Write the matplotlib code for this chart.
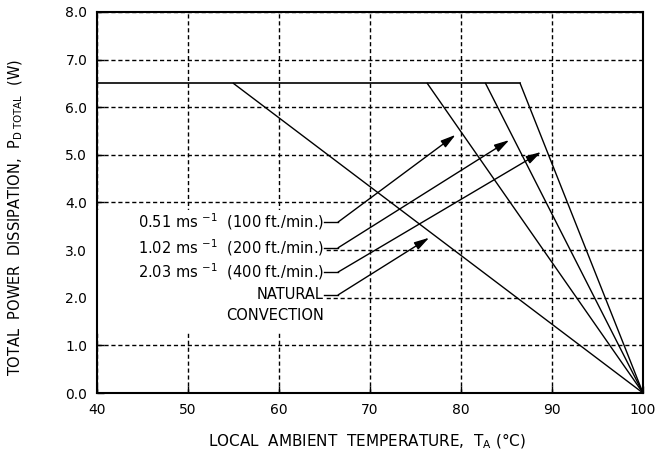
import numpy as np
import matplotlib.pyplot as plt
from matplotlib.patches import Rectangle
plt.rcParams['font.family'] = 'DejaVu Sans'
plt.rcParams['mathtext.fontset'] = 'dejavusans'

# derating curves: knee temperature at 6.5 W, all reach 0 W at 100 C
curve_names = ['natural', '0.51', '1.02', '2.03']
knee_temp = [55.0, 76.3, 82.7, 86.5]
p_max = 6.5
t_max = 100.0

# callout labels and arrow tips
labels = [r'0.51 ms $^{-1}$  (100 ft./min.)',
          r'1.02 ms $^{-1}$  (200 ft./min.)',
          r'2.03 ms $^{-1}$  (400 ft./min.)',
          'NATURAL']
label_y = [3.59, 3.05, 2.54, 2.06]
tip_x = [79.4, 85.3, 88.8, 76.5]
tip_y = [5.42, 5.31, 5.06, 3.26]
label_end_x = 64.9
elbow_x = 66.5

fig = plt.figure(figsize=(6.57, 4.70), dpi=100)
ax = fig.add_axes([0.1476, 0.1638, 0.8311, 0.8107])

ax.set_xlim(40, 100)
ax.set_ylim(0, 8)
ax.set_xticks(np.arange(40, 101, 10))
ax.set_yticks(np.arange(0, 8.1, 1))
ax.set_yticklabels(['%.1f' % v for v in np.arange(0, 8.1, 1)])
ax.tick_params(direction='in', length=5, width=1, labelsize=10, pad=7)
ax.grid(True, color='black', linestyle=(0, (3, 2)), linewidth=1)
for s in ax.spines.values():
    s.set_linewidth(1.5)

# white area behind the labels hides the grid
ax.add_patch(Rectangle((40, 1.3), label_end_x - 40, 2.55, facecolor='white',
                       edgecolor='none', zorder=2))

# flat 6.5 W line up to the highest knee
ax.plot([40, max(knee_temp)], [p_max, p_max], color='black', lw=1.2, zorder=3)
for k in knee_temp:
    ax.plot([k, t_max], [p_max, 0], color='black', lw=1.0, zorder=3)

for lab, ly, tx, ty in zip(labels, label_y, tip_x, tip_y):
    ax.text(label_end_x, ly, lab, ha='right', va='center', fontsize=10.5, zorder=4)
    ax.plot([label_end_x, elbow_x], [ly, ly], color='black', lw=1.0, zorder=3)
    ax.annotate('', xy=(tx, ty), xytext=(elbow_x, ly),
                arrowprops=dict(arrowstyle='-|>,head_length=0.9,head_width=0.25',
                                color='black', lw=1.0, shrinkA=0, shrinkB=0),
                zorder=3)
ax.text(label_end_x, 1.62, 'CONVECTION', ha='right', va='center', fontsize=10.5, zorder=4)

ax.set_xlabel(r'LOCAL  AMBIENT  TEMPERATURE,  T$_\mathrm{A}$ ($\degree$C)', fontsize=11)
ax.set_ylabel(r'TOTAL  POWER  DISSIPATION,  P$_\mathrm{D\ TOTAL}$  (W)', fontsize=10.5)
ax.xaxis.set_label_coords(0.495, -0.10)
ax.yaxis.set_label_coords(-0.132, 0.46)

plt.savefig('out.png', dpi=100)
